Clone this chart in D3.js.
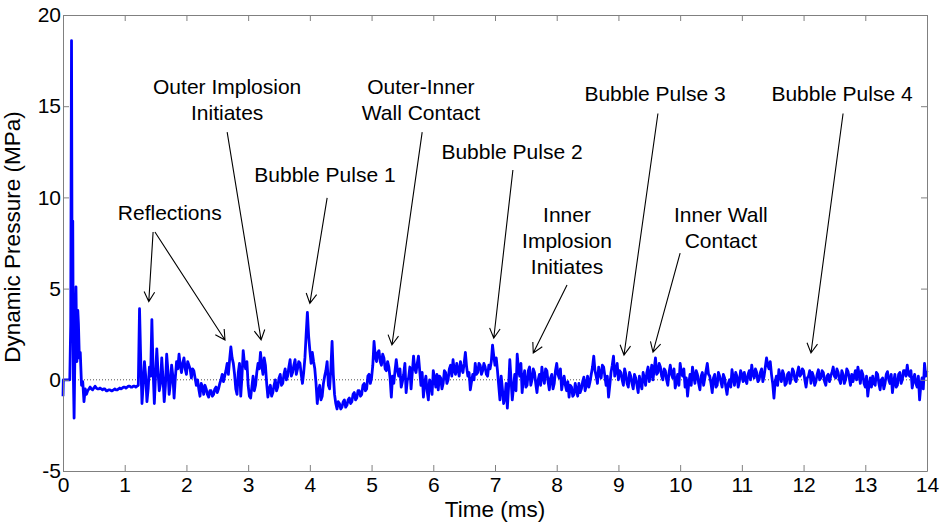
<!DOCTYPE html>
<html>
<head>
<meta charset="utf-8">
<script src="https://cdn.jsdelivr.net/npm/d3@7"></script>
<style>
  body { margin: 0; background: #fff; }
  svg { display: block; font-family: "Liberation Sans", Arial, sans-serif; }
</style>
</head>
<body>
<div id="chart"></div>
<script>
// first shock pulse, sampled finely
const earlyTime = [0, 0.005, 0.06, 0.11, 0.125, 0.138, 0.148, 0.158, 0.168, 0.18, 0.195, 0.21, 0.225, 0.24, 0.25, 0.265, 0.28, 0.30, 0.32, 0.34, 0.36, 0.38];
const earlyPressure = [-0.9, 0, 0, 0, 3, 18.6, 4, 8.7, 0.2, -2.1, 2, 5.1, 1, 3.8, 3.1, 1.2, 1.5, -0.3, -0.1, -1.2, -0.5, -0.8];

// rest of the record, one value every 0.02 ms from 0.40 ms (one row per ms)
const sampleStart = 0.40;
const sampleStep = 0.02;
const pressure = [
  -0.6, -0.5, -0.4, -0.5, -0.55, -0.45, -0.35, -0.45, -0.5, -0.5, -0.45, -0.5, -0.55, -0.5, -0.5, -0.6, -0.6, -0.55, -0.55, -0.6, -0.6, -0.55, -0.5, -0.55, -0.55, -0.5, -0.45, -0.5, -0.45, -0.4, -0.4, -0.45, -0.4, -0.35, -0.35, -0.4, -0.4, -0.35, -0.35, -0.4, -0.35, -0.3, 3.9, 1.0, -1.3, -0.2, 1.0, 0.2, -1.2, -0.5,
  0.7, 0.2, 3.3, 0.5, -1.3, 0.3, 1.7, 0.4, -0.6, -0.2, 1.2, 0.1, -1.2, -0.3, 1.4, 0.5, -0.8, -0.2, 0.8, 0.2, -1.0, 0.1, 1.0, 0.6, 1.4, 0.8, 0.4, 0.9, 1.2, 0.6, 0.3, 1.0, 0.8, 0.6, 0.1, 0.6, 0.5, 0.1, -0.3, 0.0, -0.5, -0.9, -0.2, -0.4, -0.8, -0.3, -0.5, -0.8, -0.95, -0.6,
  -0.6, -0.9, -0.8, -0.5, -0.4, -0.7, -0.5, -0.2, 0.0, 0.3, -0.1, 0.2, 0.5, 0.9, 0.3, 1.1, 1.8, 1.2, 0.9, 0.3, -0.5, -0.8, 0.4, 0.9, -0.9, 0.2, 1.6, 0.9, 0.6, 1.0, -0.3, -0.9, -1.0, -0.4, 0.2, -0.6, -0.3, 0.4, 0.9, 0.6, 1.5, 0.8, 0.3, 1.2, 0.8, -0.2, -0.95, -0.5, -0.3, -0.9,
  -0.7, -0.3, 0.0, -0.6, -0.4, 0.1, 0.3, -0.3, -0.2, 0.3, 0.6, 0.0, 0.2, 0.7, 1.1, 0.2, 0.4, 0.8, 1.1, 0.3, 0.6, 1.0, 0.9, 0.3, -0.2, 0.4, 1.2, 2.5, 3.7, 2.4, 1.6, 0.9, 1.5, 1.0, 0.6, -0.2, -1.3, -0.6, -0.3, -1.1, -0.9, -0.2, 0.2, 0.5, 1.0, -0.3, -0.5, 0.6, 2.1, 0.3,
  -0.8, -1.3, -1.6, -1.2, -1.3, -1.6, -1.5, -1.2, -1.1, -1.5, -1.4, -1.1, -1.0, -1.3, -1.2, -0.8, -0.7, -1.1, -1.0, -0.6, -0.6, -0.9, -0.8, -0.3, -0.2, -0.6, -0.5, 0.2, 0.3, -0.2, 0.1, 0.8, 2.1, 1.3, 1.0, 1.5, 1.6, 1.0, 0.8, 1.4, 1.2, 0.6, 0.5, 1.0, 0.7, 0.1, -0.95, 0.2, -0.2, 0.5,
  1.1, 0.5, 0.2, 0.6, -0.4, -0.1, 0.3, 0.9, -0.7, 0.0, 0.1, 0.7, -0.5, 0.4, 1.3, 0.6, 0.4, 0.9, 1.3, 0.5, -0.3, 0.4, -0.95, -0.2, 0.2, -0.6, -1.1, 0.0, -0.2, -0.8, 0.5, 0.1, -0.4, 0.3, -0.55, 0.2, 0.1, -0.5, -0.2, 0.5, 0.4, -0.2, 0.0, 0.6, 0.8, 0.2, 1.1, 0.5, 0.3, 0.9,
  0.55, 0.2, 1.0, 0.6, 0.4, 0.9, 1.5, 0.7, 0.2, 0.4, -0.55, -0.1, 0.3, 0.0, 0.9, 0.3, 0.4, 0.9, 0.8, 0.3, 0.5, 0.9, 0.7, 0.3, 0.2, 0.8, 0.6, 1.0, 1.9, 1.3, 0.8, 1.2, 0.5, -0.3, -1.1, 0.2, -0.5, -1.3, -1.0, -0.2, -1.55, -0.4, 1.1, 0.0, -1.1, -0.4, 0.3, -0.6, 1.4, 0.6,
  0.2, 0.9, -0.7, 0.1, 0.5, -0.4, -0.3, 0.5, 0.7, -0.3, 0.0, 0.6, 0.4, -0.2, -0.7, 0.0, 0.3, -0.3, 0.7, 0.1, -0.2, 0.6, 0.5, -0.1, -0.55, 0.1, 0.3, -0.5, -0.2, 0.5, 0.9, 0.3, 0.1, 0.6, -0.55, -0.1, 0.2, -0.3, -0.6, -0.1, -0.95, -0.3, -0.4, -0.9, -0.8, -0.2, -0.55, -0.9, -0.2, -0.7,
  -0.5, -0.1, 0.15, -0.6, -0.3, 0.2, -0.4, -0.1, 0.3, 0.7, 1.3, 0.5, 0.2, -0.2, 0.7, 0.3, 0.1, 0.8, 0.7, 0.2, -0.3, 0.2, -0.95, -0.3, 0.4, 0.8, 1.3, 0.2, 0.5, 0.9, 0.0, 0.5, 0.4, 0.0, -0.3, 0.6, 0.3, -0.2, -0.4, 0.4, 0.2, -0.2, -0.5, 0.3, 0.1, -0.3, -0.7, 0.2, -0.2, -0.5,
  0.4, 0.1, -0.3, 0.4, 0.7, -0.1, 0.3, 0.8, 0.0, 0.6, 1.2, 0.3, 0.4, 0.9, 0.7, 0.2, 0.0, 0.6, 0.5, 0.0, -0.3, 0.4, 0.8, 0.3, 0.1, 0.6, -0.45, -0.1, 0.3, -0.3, 0.9, 0.4, 0.2, 0.6, -0.4, 0.1, -0.9, -0.2, 0.3, -0.3, 0.7, 0.2, -0.2, 0.5, 0.3, -0.2, -0.55, 0.2, 0.4, -0.3,
  0.1, 0.5, 0.9, 0.3, 0.2, -0.2, -0.7, 0.1, 0.3, -0.4, -0.3, 0.4, 0.2, -0.1, -0.4, 0.3, 0.1, -0.4, -0.8, -0.2, 0.0, -0.4, 0.55, 0.1, -0.3, 0.4, 0.2, -0.4, -0.1, 0.5, 0.3, -0.1, 0.4, 0.0, -0.2, 0.3, 0.5, 0.0, 0.8, 0.3, 0.1, 0.6, 0.4, -0.1, 0.0, 0.4, 0.6, -0.1, 0.2, 0.7,
  1.2, 0.8, 0.6, 1.0, 0.3, -0.2, -1.0, -0.1, 0.2, -0.3, 0.55, 0.2, -0.1, 0.5, 0.3, -0.3, -0.2, 0.3, 0.4, -0.2, 0.1, 0.6, 0.45, 0.0, -0.1, 0.4, 0.7, 0.2, 0.3, 0.6, 0.5, 0.0, -0.4, 0.1, 0.2, 0.5, -0.2, 0.4, 0.2, -0.3, -0.1, 0.3, 0.55, 0.0, 0.1, 0.5, 0.4, -0.1, -0.3, 0.2,
  0.3, -0.1, 0.2, 0.4, 0.7, 0.2, 0.1, 0.6, 0.4, 0.0, -0.2, 0.5, 0.3, -0.2, 0.0, 0.6, 0.45, 0.1, -0.3, 0.3, -0.1, 0.2, 0.5, 0.0, 0.7, 0.3, -0.2, 0.5, 0.3, -0.2, -0.4, 0.2, -0.9, -0.3, 0.1, -0.4, 0.2, -0.2, -0.3, 0.4, 0.3, -0.2, -0.55, 0.0, 0.1, -0.5, -0.2, 0.3, 0.45, 0.0,
  -0.2, 0.3, -0.7, -0.1, 0.3, -0.4, -0.3, 0.3, 0.4, -0.2, 0.0, 0.5, 0.5, 0.2, 0.8, 0.3, 0.2, 0.5, -0.45, 0.0, 0.3, -0.2, -0.4, 0.2, -1.1, -0.3, 0.1, -0.5, 0.9, 0.2, 0.5
];

const xTicks = [0, 1, 2, 3, 4, 5, 6, 7, 8, 9, 10, 11, 12, 13, 14];
const yTicks = [-5, 0, 5, 10, 15, 20];

// text anchor (t, v), arrow start (t, v), arrow tip (t, v)
const annotations = [
  { lines: ['Reflections'], t: 1.73, v: 9.15, from: [1.46, 8.1], to: [1.39, 4.29] },
  { lines: [], t: 1.73, v: 9.15, from: [1.49, 8.1], to: [2.625, 2.18] },
  { lines: ['Outer Implosion', 'Initiates'], t: 2.66, v: 16.05, from: [2.66, 13.58], to: [3.21, 2.19] },
  { lines: ['Bubble Pulse 1'], t: 4.245, v: 11.23, from: [4.28, 9.97], to: [4.0, 4.19] },
  { lines: ['Outer-Inner', 'Wall Contact'], t: 5.8, v: 16.05, from: [5.82, 13.58], to: [5.33, 1.91] },
  { lines: ['Bubble Pulse 2'], t: 7.276, v: 12.49, from: [7.29, 11.5], to: [6.98, 2.29] },
  { lines: ['Inner', 'Implosion', 'Initiates'], t: 8.167, v: 9.03, from: [8.167, 5.2], to: [7.62, 1.47] },
  { lines: ['Bubble Pulse 3'], t: 9.593, v: 15.67, from: [9.64, 14.6], to: [9.09, 1.36] },
  { lines: ['Inner Wall', 'Contact'], t: 10.66, v: 9.03, from: [10.0, 6.95], to: [9.56, 1.52] },
  { lines: ['Bubble Pulse 4'], t: 12.623, v: 15.67, from: [12.64, 14.6], to: [12.12, 1.47] }
];

const W = 942, H = 523;
const margin = { top: 15, right: 15, bottom: 52, left: 63 };
const width = W - margin.left - margin.right;
const height = H - margin.top - margin.bottom;
const axisColor = '#808080';

const svg = d3.select('#chart').append('svg')
  .attr('width', W)
  .attr('height', H);

const g = svg.append('g')
  .attr('transform', `translate(${margin.left},${margin.top})`);

const x = d3.scaleLinear().domain([0, 14]).range([0, width]);
const y = d3.scaleLinear().domain([-5, 20]).range([height, 0]);

const points = earlyTime.map((t, i) => [t, earlyPressure[i]])
  .concat(pressure.map((v, i) => [sampleStart + i * sampleStep, v]));

// zero reference line
g.append('line')
  .attr('x1', 0).attr('x2', width)
  .attr('y1', y(0)).attr('y2', y(0))
  .attr('stroke', '#555')
  .attr('stroke-width', 1)
  .attr('stroke-dasharray', '1,2');

g.append('path')
  .datum(points)
  .attr('fill', 'none')
  .attr('stroke', '#0000ff')
  .attr('stroke-width', 2.8)
  .attr('stroke-linejoin', 'round')
  .attr('d', d3.line().x(d => x(d[0])).y(d => y(d[1])));

// box axes, ticks pointing inward
const styleAxis = sel => {
  sel.select('.domain').attr('stroke', axisColor);
  sel.selectAll('.tick line').attr('stroke', axisColor);
};

g.append('g')
  .attr('transform', `translate(0,${height})`)
  .call(d3.axisBottom(x).tickValues(xTicks).tickFormat(d => String(d)).tickSizeInner(-6).tickSizeOuter(0).tickPadding(6))
  .call(styleAxis)
  .call(a => a.selectAll('.tick text').attr('fill', '#000').style('font-size', '21px'));

g.append('g')
  .call(d3.axisLeft(y).tickValues(yTicks).tickFormat(d => String(d)).tickSizeInner(-6).tickSizeOuter(0).tickPadding(2))
  .call(styleAxis)
  .call(a => a.selectAll('.tick text').attr('fill', '#000').style('font-size', '21px'));

g.append('g')
  .call(d3.axisTop(x).tickValues(xTicks).tickSizeInner(-6).tickSizeOuter(0).tickFormat(''))
  .call(styleAxis);

g.append('g')
  .attr('transform', `translate(${width},0)`)
  .call(d3.axisRight(y).tickValues(yTicks).tickSizeInner(-6).tickSizeOuter(0).tickFormat(''))
  .call(styleAxis);

g.append('text')
  .attr('x', width / 2)
  .attr('y', height + 46)
  .attr('text-anchor', 'middle')
  .style('font-size', '22.5px')
  .text('Time (ms)');

g.append('text')
  .attr('transform', 'rotate(-90)')
  .attr('x', -(237 - margin.top))
  .attr('y', -43)
  .attr('text-anchor', 'middle')
  .style('font-size', '22.5px')
  .text('Dynamic Pressure (MPa)');

// annotations with open arrowheads
const lineGap = 26;
const headLen = 11, headAngle = 0.5;
annotations.forEach(a => {
  const tx = x(a.t), ty = y(a.v);
  a.lines.forEach((line, i) => {
    g.append('text')
      .attr('x', tx)
      .attr('y', ty + i * lineGap)
      .attr('dy', '0.35em')
      .attr('text-anchor', 'middle')
      .style('font-size', '21px')
      .text(line);
  });
  const x1 = x(a.from[0]), y1 = y(a.from[1]);
  const x2 = x(a.to[0]), y2 = y(a.to[1]);
  const ang = Math.atan2(y1 - y2, x1 - x2);
  const path = d3.path();
  path.moveTo(x1, y1);
  path.lineTo(x2, y2);
  path.moveTo(x2 + headLen * Math.cos(ang - headAngle), y2 + headLen * Math.sin(ang - headAngle));
  path.lineTo(x2, y2);
  path.lineTo(x2 + headLen * Math.cos(ang + headAngle), y2 + headLen * Math.sin(ang + headAngle));
  g.append('path')
    .attr('d', path.toString())
    .attr('fill', 'none')
    .attr('stroke', '#000')
    .attr('stroke-width', 1.1);
});
</script>
</body>
</html>
